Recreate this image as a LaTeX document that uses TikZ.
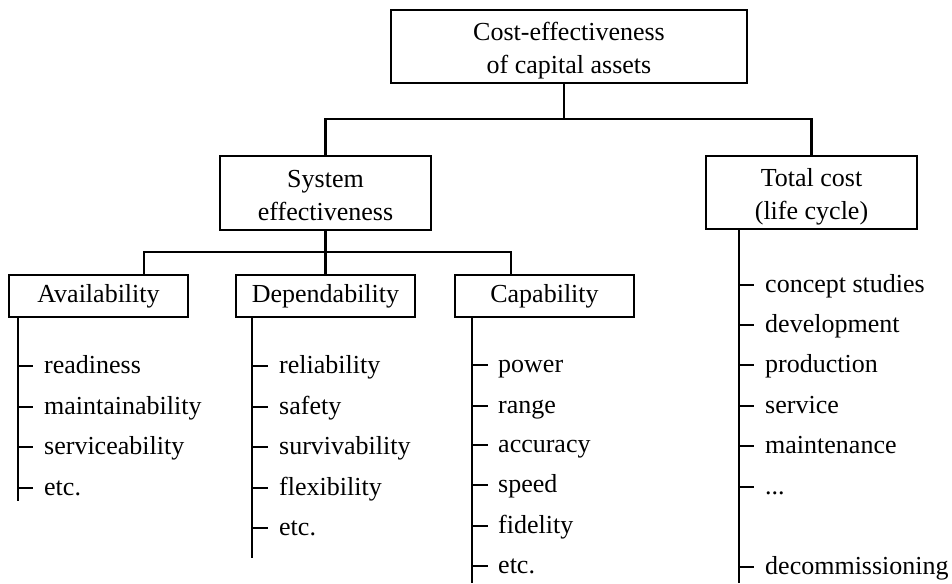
\documentclass[tikz,border=0pt]{standalone}
\usepackage{fontspec}
\setmainfont{Liberation Serif}
% two-line box text, set a little below the box centre
\newcommand\twolines[2]{\raisebox{-4pt}[\height][\depth]{\begin{tabular}{@{}c@{}}#1\\#2\end{tabular}}}
\begin{document}
\begin{tikzpicture}[x=1pt,y=-1pt,
  box/.style={draw, line width=1.2pt, inner sep=0pt, align=center,
    font=\fontsize{26}{33}\selectfont},
  conn/.style={line width=2.4pt},
  item/.style={anchor=base west, inner sep=0pt, font=\fontsize{26}{30}\selectfont},
  tick/.style={line width=2.4pt}]
\useasboundingbox (0,0) rectangle (952,583);

% boxes
\node[box, minimum width=356, minimum height=73] (top) at (569,46.5)
  {\twolines{Cost-effectiveness}{of capital assets}};
\node[box, minimum width=211, minimum height=74] (se) at (325.5,193)
  {\twolines{System}{effectiveness}};
\node[box, minimum width=211, minimum height=73] (tc) at (811.5,192.5)
  {\twolines{Total cost}{(life cycle)}};
\node[box, minimum width=179, minimum height=42] (av) at (98.5,296) {Availability};
\node[box, minimum width=179, minimum height=42] (dep) at (325.5,296) {Dependability};
\node[box, minimum width=179, minimum height=42] (cap) at (544.5,296) {Capability};

% upper tree
\coordinate (j1) at (564,119);
\draw[conn] (top.south -| j1) -- (j1);
\draw[conn] (se.north) |- (j1) -| (tc.north);

% second level
\coordinate (ja) at (144,252);
\coordinate (jc) at (511,252);
\draw[conn] (av.north -| ja) -- (ja) -- (jc) -- (cap.north -| jc);
\draw[conn] (se.south) -- (dep.north);

% list spines
\coordinate (aend) at (18,501);
\coordinate (dend) at (252,558);
\coordinate (cend) at (472,583);
\coordinate (tend) at (739,583);
\draw[conn] (av.south -| aend) -- (aend);
\draw[conn] (dep.south -| dend) -- (dend);
\draw[conn] (cap.south -| cend) -- (cend);
\draw[conn] (tc.south -| tend) -- (tend);

% availability items
\foreach \n/\y/\t in {1/366/readiness, 2/407/maintainability, 3/447/serviceability, 4/488/etc.}{
  \node[item] (a\n) at (44,\y+7) {\t};
  \path ([yshift=7pt]a\n.base west) coordinate (ta\n);
  \draw[tick] (ta\n -| aend) -- ++(15,0);
}
% dependability items
\foreach \n/\y/\t in {1/366/reliability, 2/407/safety, 3/447/survivability, 4/488/flexibility, 5/528/etc.}{
  \node[item] (d\n) at (279,\y+7) {\t};
  \path ([yshift=7pt]d\n.base west) coordinate (td\n);
  \draw[tick] (td\n -| dend) -- ++(16,0);
}
% capability items
\foreach \n/\y/\t in {1/365/power, 2/406/range, 3/445/accuracy, 4/485/speed, 5/526/fidelity, 6/566/etc.}{
  \node[item] (c\n) at (498,\y+7) {\t};
  \path ([yshift=7pt]c\n.base west) coordinate (tc\n);
  \draw[tick] (tc\n -| cend) -- ++(16,0);
}
% total cost items
\foreach \n/\y/\t in {1/285/concept studies, 2/325/development, 3/365/production, 4/406/service, 5/446/maintenance, 7/567/decommissioning}{
  \node[item] (t\n) at (765,\y+7) {\t};
  \path ([yshift=7pt]t\n.base west) coordinate (tt\n);
  \draw[tick] (tt\n -| tend) -- ++(15,0);
}
\node[item] (t6) at (765,494) {...};
\path ([yshift=7pt]t6.base west) coordinate (tt6);
\draw[tick] (tt6 -| tend) -- ++(15,0);
\end{tikzpicture}
\end{document}
